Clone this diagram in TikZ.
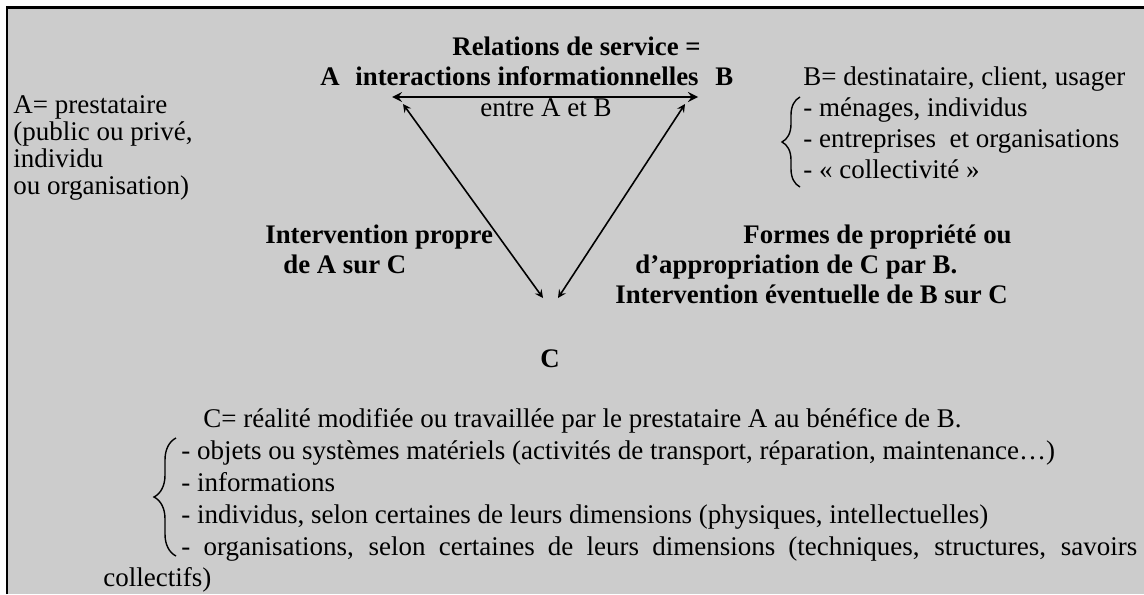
\documentclass[tikz,border=0pt]{standalone}
\usepackage{fontspec}
\setmainfont{Liberation Serif}
\usetikzlibrary{arrows,decorations.pathreplacing}
\definecolor{fond}{RGB}{204,204,204}
\tikzstyle{arrow} = [thick,<->,>=stealth]
\tikzstyle{txt} = [anchor=base west, inner sep=0pt, font=\fontsize{13.5}{16}\selectfont]
\tikzstyle{gras} = [anchor=base west, inner sep=0pt, font=\fontsize{13.4}{16}\selectfont\bfseries]
\tikzstyle{accolade} = [decorate, line width=0.7pt]

\begin{document}
\begin{tikzpicture}[x=0.5pt,y=-0.5pt]
\useasboundingbox (0,0) rectangle (1144,594);
\fill[fond] (7,7) rectangle (1144,594);
\draw[line width=1.3pt] (7,594) -- (7,7.5) -- (1144,7.5);

% triangle A - B - C
\node[gras] (titre) at (452,55) {Relations de service =};
\node[gras] (A) at (320,85) {A};
\node[gras] (inter) at (355,85) {interactions informationnelles};
\node[gras] (B) at (715,85) {B};
\node[gras, anchor=base] (C) at (550,367) {C};
\node[txt, anchor=base] (entre) at (546,116) {entre A et B};

\coordinate (ab1) at (392,97);
\coordinate (ab2) at (698,97);
\coordinate (ac1) at (403,104);
\coordinate (ac2) at (543,298);
\coordinate (bc1) at (685,104);
\coordinate (bc2) at (558,298);
\draw[arrow, line width=1.2pt] (ab1) -- (ab2);
\draw[arrow] (ac1) -- (ac2);
\draw[arrow] (bc1) -- (bc2);

% A
\node[txt] (a1) at (13,113) {A= prestataire};
\node[txt] (a2) at (13,140) {(public ou privé,};
\node[txt] (a3) at (13,167) {individu};
\node[txt] (a4) at (13,194) {ou organisation)};

% B
\node[txt] (b0) at (803,85) {B= destinataire, client, usager};
\node[txt] (b1) at (803,116) {- ménages, individus};
\node[txt] (b2) at (803,147) {- entreprises\ \ et organisations};
\node[txt] (b3) at (803,178) {- « collectivité »};
\draw[accolade, decoration={brace,amplitude=9pt}] (800,187) -- (800,97);

% liens vers C
\node[gras] (ac) at (265,243) {Intervention propre};
\node[gras] (ac') at (283,273) {de A sur C};
\node[gras] (bc) at (743,243) {Formes de propriété ou};
\node[gras] (bc') at (635,273) {d’appropriation\ de C par B.};
\node[gras] (bc'') at (615,303) {Intervention éventuelle de B sur C};

% C
\node[txt] (c0) at (203,427) {C= réalité modifiée ou travaillée par le prestataire A au bénéfice de B.};
\node[txt] (c1) at (181,459) {- objets ou systèmes matériels (activités de transport, réparation, maintenance…)};
\node[txt] (c2) at (181,491) {- informations};
\node[txt] (c3) at (181,523) {- individus, selon certaines de leurs dimensions (physiques, intellectuelles)};
\node[txt] (c4) at (181,555) {\makebox[478pt][s]{- organisations, selon certaines de leurs dimensions (techniques, structures, savoirs}};
\node[txt] (c5) at (103,586) {collectifs)};
\draw[accolade, decoration={brace,amplitude=11pt}] (176,556) -- (176,438);
\end{tikzpicture}
\end{document}
